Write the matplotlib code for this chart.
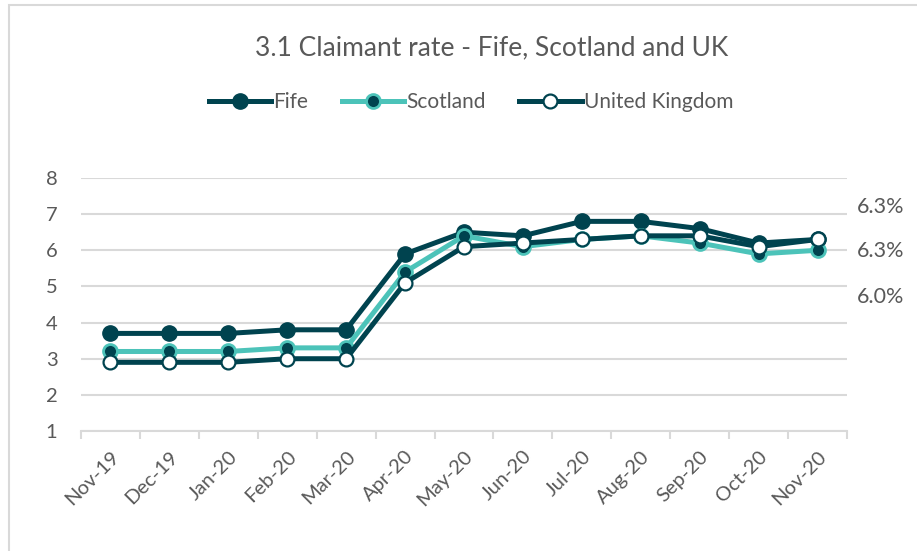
import matplotlib.pyplot as plt
from matplotlib.patches import Rectangle

months = ["Nov-19", "Dec-19", "Jan-20", "Feb-20", "Mar-20", "Apr-20", "May-20",
          "Jun-20", "Jul-20", "Aug-20", "Sep-20", "Oct-20", "Nov-20"]
fife = [3.7, 3.7, 3.7, 3.8, 3.8, 5.9, 6.5, 6.4, 6.8, 6.8, 6.6, 6.2, 6.3]
scotland = [3.2, 3.2, 3.2, 3.3, 3.3, 5.4, 6.4, 6.1, 6.3, 6.4, 6.2, 5.9, 6.0]
uk = [2.9, 2.9, 2.9, 3.0, 3.0, 5.1, 6.1, 6.2, 6.3, 6.4, 6.4, 6.1, 6.3]
side_labels = ["6.3%", "6.3%", "6.0%"]

dark = "#00434f"
teal = "#4cc3b9"
grey = "#595959"
gridc = "#d9d9d9"

plt.rcParams['font.family'] = ['Lato', 'DejaVu Sans']

fig = plt.figure(figsize=(9.17, 5.51), dpi=100)
fig.patches.append(Rectangle((9 / 917, -0.1), 1.2, 1 - 5 / 551 + 0.1, transform=fig.transFigure,
                             fill=False, edgecolor=gridc, linewidth=1.5))
ax = fig.add_axes([81 / 917, 1 - 431 / 551, (847 - 81) / 917, (431 - 178) / 551])

x = list(range(len(months)))
ax.plot(x, fife, color=dark, lw=3.6, marker='o', ms=11, mfc=dark, mec=dark, label="Fife", zorder=3)
ax.plot(x, scotland, color=teal, lw=3.6, marker='o', ms=10, mfc=dark, mec=teal, mew=2,
        label="Scotland", zorder=4)
ax.plot(x, uk, color=dark, lw=3.6, marker='o', ms=10, mfc='white', mec=dark, mew=1.6,
        label="United Kingdom", zorder=5)

ax.set_ylim(1, 8)
ax.set_xlim(-0.5, len(months) - 0.5)
ax.set_yticks(range(1, 9))
ax.grid(axis='y', color=gridc, lw=1.5)
ax.set_axisbelow(True)
for s in ['top', 'right', 'left']:
    ax.spines[s].set_visible(False)
ax.spines['bottom'].set_color(gridc)
ax.spines['bottom'].set_linewidth(1.5)

ax.set_xticks(x)
ax.set_xticklabels(months, rotation=45, ha='right', rotation_mode='anchor')
ax.set_xticks([i - 0.5 for i in range(len(months) + 1)], minor=True)
ax.tick_params(axis='x', which='major', length=0, pad=12, labelsize=14.5, labelcolor=grey)
ax.tick_params(axis='x', which='minor', length=6, width=1.5, color=gridc, direction='out')
ax.tick_params(axis='y', length=0, pad=17, labelsize=14.5, labelcolor=grey)

fig.text(492 / 917, 1 - 48 / 551, "3.1 Claimant rate - Fife, Scotland and UK",
         ha='center', va='center', fontsize=19, color=grey)
fig.legend(loc='center', bbox_to_anchor=(471 / 917, 1 - 102 / 551), ncol=3, frameon=False,
           fontsize=15, labelcolor=grey, handlelength=3, handletextpad=0.1, columnspacing=1.6)

for lab, yp in zip(side_labels, [207, 251, 297]):
    fig.text(857 / 917, 1 - yp / 551, lab, ha='left', va='center', fontsize=15.5, color=grey)

fig.savefig("out.png", dpi=100)
